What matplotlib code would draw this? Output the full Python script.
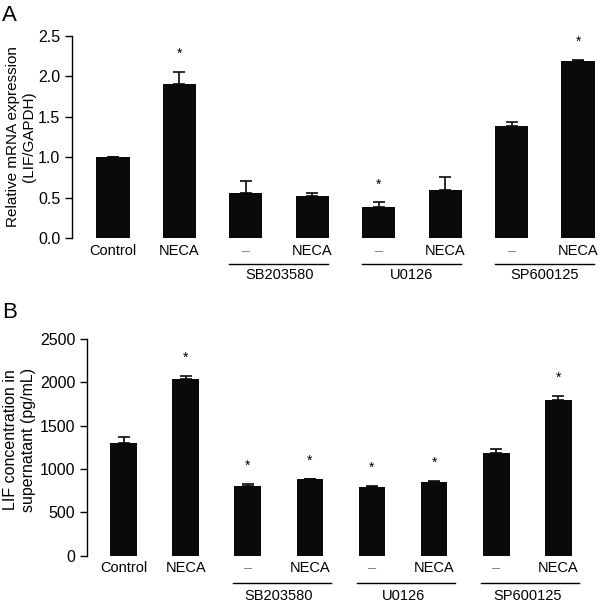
import numpy as np
import matplotlib
matplotlib.use("Agg")
import matplotlib.pyplot as plt

plt.rcParams['font.family'] = ['Liberation Sans', 'DejaVu Sans']

# categories shared by both panels
tick_labels = ["Control", "NECA", "–", "NECA", "–", "NECA", "–", "NECA"]
groups = ["SB203580", "U0126", "SP600125"]
group_pairs = [(2, 3), (4, 5), (6, 7)]

# panel A: relative mRNA expression
mrna_mean = [1.00, 1.90, 0.56, 0.52, 0.38, 0.59, 1.38, 2.19]
mrna_err = [0.00, 0.15, 0.15, 0.04, 0.06, 0.17, 0.05, 0.01]
mrna_star = [False, True, False, False, True, False, False, True]

# panel B: LIF concentration in supernatant
lif_mean = [1305, 2035, 808, 885, 797, 854, 1189, 1800]
lif_err = [60, 35, 23, 5, 10, 5, 38, 48]
lif_star = [False, True, True, True, True, True, False, True]


def draw_panel(ax, mean, err, star, width, ylim, yticks, fmt, ylabel, label_xy,
               label_size, xlim, pad):
    x = np.arange(len(mean))
    ax.bar(x, mean, width, color="#0a0a0a", zorder=2)
    ax.errorbar(x, mean, yerr=[np.zeros(len(err)), err], fmt="none",
                ecolor="#0a0a0a", elinewidth=1.2, capsize=4, capthick=1.2, zorder=1)
    for xi, m, e, s in zip(x, mean, err, star):
        if s:
            ax.annotate("*", (xi, m + e), xytext=(0, 8), textcoords="offset points",
                        ha="center", va="bottom", fontsize=10)
    ax.set_xlim(*xlim)
    ax.set_ylim(*ylim)
    ax.set_yticks(yticks)
    ax.set_yticklabels([fmt.format(v) for v in yticks])
    ax.set_xticks(x)
    ax.set_xticklabels(tick_labels)
    for lab in ax.get_xticklabels():
        if lab.get_text() == "–":
            lab.set_color("#888888")
    ax.tick_params(axis="x", length=0, pad=4, labelsize=10.5)
    ax.tick_params(axis="y", length=5, width=1, direction="out", labelsize=11.5)
    for sp in ("top", "right", "bottom"):
        ax.spines[sp].set_visible(False)
    ax.spines["left"].set_linewidth(1)
    ax.set_ylabel(ylabel, fontsize=label_size, linespacing=1.2)
    ax.yaxis.set_label_coords(*label_xy)
    trans = ax.get_xaxis_transform()
    for name, (a, b) in zip(groups, group_pairs):
        ax.plot([a - pad[0], b + pad[1]], [-0.128, -0.128], color="black", lw=1,
                transform=trans, clip_on=False)
        ax.text((a + b) / 2, -0.185, name, transform=trans, ha="center", va="center",
                fontsize=10.5)


fig = plt.figure(figsize=(6, 6.02), dpi=100)
axA = fig.add_axes([0.12, 0.6047, 0.88, 0.3355])
axB = fig.add_axes([0.145, 0.0769, 0.855, 0.36])

draw_panel(axA, mrna_mean, mrna_err, mrna_star, 0.5, (0, 2.5),
           [0, 0.5, 1.0, 1.5, 2.0, 2.5], "{:.1f}",
           "Relative mRNA expression\n(LIF/GAPDH)", (-0.068, 0.5), 11,
           (-0.617, 7.33), (0.25, 0.24))
draw_panel(axB, lif_mean, lif_err, lif_star, 0.43, (0, 2500),
           [0, 500, 1000, 1500, 2000, 2500], "{:d}",
           "LIF concentration in\nsupernatant (pg/mL)", (-0.100, 0.535), 11.5,
           (-0.588, 7.67), (0.24, 0.34))

fig.text(0.003, 0.975, "A", fontsize=16, va="center", ha="left")
fig.text(0.003, 0.481, "B", fontsize=16, va="center", ha="left")

fig.savefig("out.png", dpi=100)
